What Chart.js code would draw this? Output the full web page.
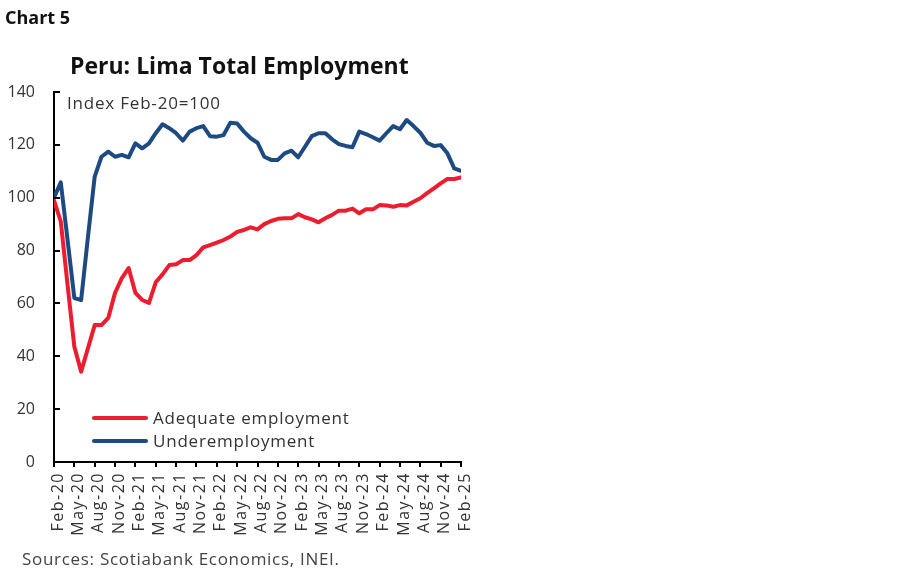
<!DOCTYPE html>
<html>
<head>
<meta charset="utf-8">
<script src="https://cdn.jsdelivr.net/npm/chart.js@4.4.1/dist/chart.umd.min.js"></script>
<style>
  body { margin: 0; background: #fff; font-family: "Open Sans", sans-serif; }
  #wrap { position: relative; width: 900px; height: 579px; overflow: hidden; }
  canvas { position: absolute; left: 0; top: 0; }
  .txt { position: absolute; white-space: nowrap; color: #222; }
  #chartNo { left: 5px; top: 5px; font-size: 18px; font-weight: 700; color: #111; }
  #title { left: 70px; top: 49px; font-size: 23px; font-weight: 700; color: #111; }
  #units { left: 67px; top: 91px; font-size: 17px; letter-spacing: 0.8px; color: #333; }
  #source { left: 22px; top: 547px; font-size: 17px; letter-spacing: 0.7px; color: #444; }
  .leg { position: absolute; left: 92px; font-size: 17px; letter-spacing: 0.8px; color: #333; white-space: nowrap; }
  .leg span { display: inline-block; width: 56px; height: 4px; border-radius: 2px; vertical-align: middle; margin-right: 5px; position: relative; top: -1px; }
</style>
</head>
<body>
<div id="wrap">
  <canvas id="c" width="900" height="579"></canvas>
  <div class="txt" id="chartNo">Chart 5</div>
  <div class="txt" id="title">Peru: Lima Total Employment</div>
  <div class="txt" id="units">Index Feb-20=100</div>
  <div class="leg" style="top:406px"><span style="background:#EC1D2F"></span>Adequate employment</div>
  <div class="leg" style="top:429px"><span style="background:#1D4A80"></span>Underemployment</div>
  <div class="txt" id="source">Sources: Scotiabank Economics, INEI.</div>
</div>
<script>
// monthly, Feb-20 .. Feb-25
var months = [
  'Feb-20','Mar-20','Apr-20','May-20','Jun-20','Jul-20','Aug-20','Sep-20','Oct-20','Nov-20','Dec-20','Jan-21',
  'Feb-21','Mar-21','Apr-21','May-21','Jun-21','Jul-21','Aug-21','Sep-21','Oct-21','Nov-21','Dec-21','Jan-22',
  'Feb-22','Mar-22','Apr-22','May-22','Jun-22','Jul-22','Aug-22','Sep-22','Oct-22','Nov-22','Dec-22','Jan-23',
  'Feb-23','Mar-23','Apr-23','May-23','Jun-23','Jul-23','Aug-23','Sep-23','Oct-23','Nov-23','Dec-23','Jan-24',
  'Feb-24','Mar-24','Apr-24','May-24','Jun-24','Jul-24','Aug-24','Sep-24','Oct-24','Nov-24','Dec-24','Jan-25',
  'Feb-25'
];

var adequate = [
  99, 91, 67, 43.6, 34.2, 43, 51.8, 51.8, 54.5, 64, 69.6, 73.4,
  64, 61.3, 60.2, 68, 71, 74.5, 74.8, 76.4, 76.4, 78.3, 81.2, 82.1,
  83, 84, 85.3, 87.1, 87.8, 88.8, 88, 90, 91.2, 92, 92.2, 92.2,
  93.8, 92.6, 91.8, 90.7, 92.2, 93.5, 95.1, 95.1, 95.9, 94.1, 95.6, 95.6,
  97.2, 97.1, 96.6, 97.2, 97.1, 98.5, 99.8, 101.7, 103.5, 105.4, 107.1, 107.1,
  107.7
];

var underemployment = [
  100, 105.8, 84, 62, 61.3, 85, 108, 115.5, 117.4, 115.5, 116.2, 115.3,
  120.6, 118.7, 120.6, 124.4, 127.8, 126.3, 124.4, 121.6, 125, 126.3, 127.1, 123.3,
  123.1, 123.7, 128.4, 128.1, 125, 122.5, 120.8, 115.5, 114.3, 114.3, 116.8, 117.8,
  115.3, 119.3, 123.3, 124.4, 124.4, 122.1, 120.3, 119.6, 119.1, 125, 124.1, 122.9,
  121.6, 124.4, 127.1, 125.9, 129.4, 127.1, 124.6, 120.8, 119.6, 119.9, 116.8, 111.1,
  110.2
];

var yMin = 0, yMax = 140, yStep = 20;
var xTickStep = 3;

function toPoints(arr) {
  return arr.map(function (v, i) { return { x: i, y: v }; });
}

// y-axis tick marks point into the plot; x labels get a bit of letter spacing
var axisTweaks = {
  id: 'axisTweaks',
  beforeDraw: function (chart) {
    var sx = chart.scales.x;
    if (!sx || sx._spaced) return;
    var orig = sx.drawLabels;
    sx.drawLabels = function (area) {
      var ctx = this.ctx;
      ctx.save();
      ctx.letterSpacing = '1.5px';
      orig.call(this, area);
      ctx.restore();
    };
    sx._spaced = true;
  },
  afterDraw: function (chart) {
    var ctx = chart.ctx, y = chart.scales.y, left = chart.chartArea.left;
    ctx.save();
    ctx.strokeStyle = '#000';
    ctx.lineWidth = 2;
    y.ticks.forEach(function (t) {
      if (t.value === yMin) return;
      var py = Math.round(y.getPixelForValue(t.value));
      ctx.beginPath();
      ctx.moveTo(left - 1, py);
      ctx.lineTo(left + 6, py);
      ctx.stroke();
    });
    ctx.restore();
  }
};

new Chart(document.getElementById('c'), {
  type: 'line',
  data: {
    datasets: [{
      label: 'Adequate employment',
      data: toPoints(adequate),
      borderColor: '#EC1D2F',
      borderWidth: 4,
      pointRadius: 0,
      tension: 0,
      borderJoinStyle: 'round',
      borderCapStyle: 'round'
    }, {
      label: 'Underemployment',
      data: toPoints(underemployment),
      borderColor: '#1D4A80',
      borderWidth: 4,
      pointRadius: 0,
      tension: 0,
      borderJoinStyle: 'round',
      borderCapStyle: 'round'
    }]
  },
  options: {
    responsive: false,
    animation: false,
    layout: { padding: { left: 0, right: 439, top: 92, bottom: 0 } },
    plugins: { legend: { display: false }, tooltip: { enabled: false } },
    scales: {
      x: {
        type: 'linear',
        min: 0,
        max: months.length - 1,
        afterFit: function (s) { s.height = 117; },
        grid: { drawOnChartArea: false, drawTicks: true, tickLength: 5, tickColor: '#000', lineWidth: 2 },
        border: { display: true, color: '#000', width: 2 },
        ticks: {
          stepSize: xTickStep,
          autoSkip: false,
          maxRotation: 90,
          minRotation: 90,
          padding: 5,
          labelOffset: 4,
          color: '#333',
          font: { family: 'Open Sans', size: 16 },
          callback: function (v) { return months[v]; }
        }
      },
      y: {
        min: yMin,
        max: yMax,
        afterFit: function (s) { s.width = 54; },
        grid: { display: false, drawTicks: false },
        border: { display: true, color: '#000', width: 2 },
        ticks: {
          stepSize: yStep,
          padding: 19,
          color: '#333',
          font: { family: 'Open Sans', size: 16 }
        }
      }
    }
  },
  plugins: [axisTweaks]
});
</script>
</body>
</html>
